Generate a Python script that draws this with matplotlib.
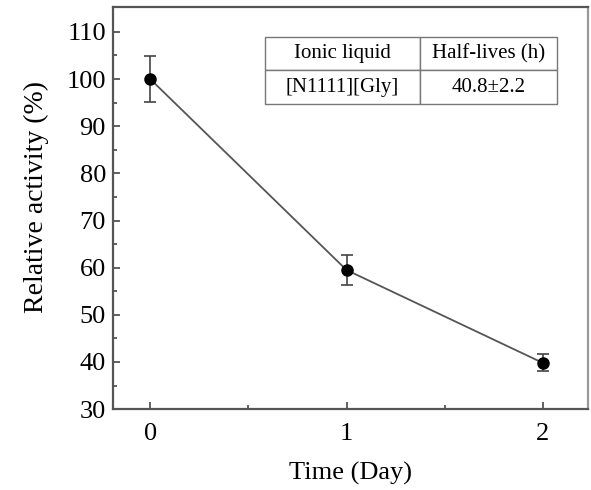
import matplotlib.pyplot as plt

plt.rcParams['font.family'] = ['Liberation Serif', 'DejaVu Serif']

# donnees
days = [0, 1, 2]
activity = [100.0, 59.5, 39.8]
errors = [4.8, 3.2, 1.8]

table_header = ["Ionic liquid", "Half-lives (h)"]
table_row = ["[N1111][Gly]", "40.8\u00b12.2"]

fig = plt.figure(figsize=(5.91, 4.90), dpi=100)
ax = fig.add_axes([0.191, 0.165, 0.804, 0.821])

ax.errorbar(days, activity, yerr=errors, color="#555555", lw=1.3,
            marker="o", markersize=8, mfc="black", mec="black",
            ecolor="#444444", elinewidth=1.2, capsize=4, capthick=1.2)

ax.set_xlim(-0.19, 2.23)
ax.set_ylim(30, 115.3)
ax.set_xticks([0, 1, 2])
ax.set_xticks([0.5, 1.5], minor=True)
ax.set_yticks(range(30, 111, 10))
ax.set_yticks(range(35, 111, 10), minor=True)

for s in ax.spines.values():
    s.set_color("#555555")
    s.set_linewidth(1.6)
ax.spines["right"].set_color("#999999")
ax.tick_params(which="both", direction="in", color="#555555", width=1.3)
ax.tick_params(which="major", length=5, labelsize=19, pad=5)
ax.tick_params(axis="x", which="major", pad=10)
ax.tick_params(which="minor", length=3)

ax.set_xlabel("Time (Day)", fontsize=19, labelpad=12)
ax.set_ylabel("Relative activity (%)", fontsize=20)
ax.yaxis.set_label_coords(-0.134, 0.527)

tab = ax.table(cellText=[table_header, table_row], cellLoc="center",
               colWidths=[155, 137], bbox=[0.32, 0.759, 0.615, 0.166])
tab.auto_set_font_size(False)
tab.set_fontsize(15)
for cell in tab.get_celld().values():
    cell.set_edgecolor("#777777")
    cell.set_linewidth(1.0)

fig.savefig("out.png", dpi=100)
